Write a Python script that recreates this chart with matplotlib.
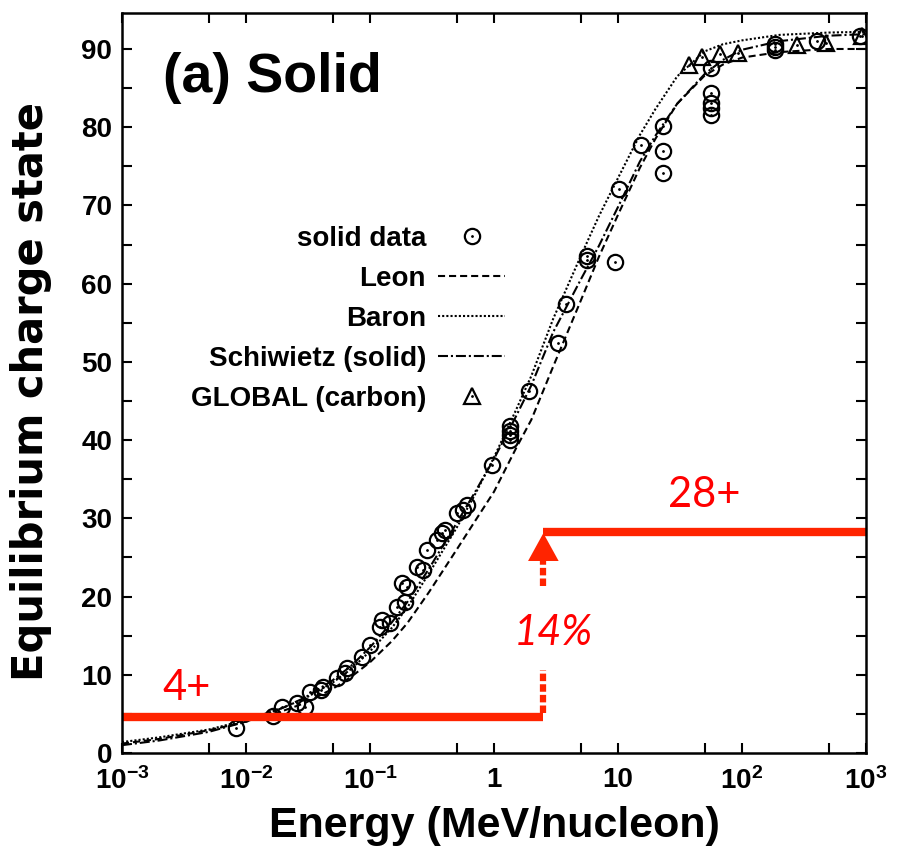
import matplotlib
matplotlib.use('Agg')
import matplotlib.pyplot as plt
from matplotlib.legend_handler import HandlerTuple
from matplotlib.ticker import FixedLocator, FixedFormatter
import numpy as np

# dati sperimentali (solido)
solid_E = [0.0083, 0.0165, 0.0195, 0.0258, 0.030, 0.033, 0.040, 0.042, 0.054, 0.063,
           0.065, 0.086, 0.100, 0.120, 0.126, 0.145, 0.165, 0.181, 0.190, 0.199,
           0.239, 0.267, 0.288, 0.347, 0.380, 0.400, 0.503, 0.560, 0.605, 0.960,
           1.35, 1.35, 1.35, 1.35, 1.91, 3.28, 3.81, 5.62, 5.62, 9.5,
           10.2, 15.3, 23.1, 23.1, 23.1, 56, 56, 56, 56, 56,
           184, 184, 184, 403, 895]
solid_Q = [3.2, 4.7, 5.9, 6.4, 5.9, 7.8, 8.1, 8.4, 9.6, 10.2,
           10.9, 12.3, 13.8, 16.1, 17.0, 16.6, 18.7, 21.7, 19.3, 21.2,
           23.8, 23.4, 26.0, 27.2, 28.1, 28.5, 30.7, 31.1, 31.7, 36.8,
           40.0, 40.6, 41.2, 41.8, 46.3, 52.4, 57.4, 63.0, 63.5, 62.8,
           72.1, 77.7, 80.2, 77.0, 74.2, 87.6, 84.4, 83.1, 82.5, 81.6,
           89.9, 90.2, 90.6, 91.0, 91.6]

# GLOBAL (carbon)
glob_E = [37.4, 47.5, 66.5, 93, 278, 475, 929]
glob_Q = [88.0, 89.0, 89.4, 89.5, 90.5, 90.8, 91.6]

# curve teoriche
curve_E = [1e-3, 2e-3, 5e-3, 1e-2, 2e-2, 3e-2, 5e-2, 0.07, 0.1, 0.15,
           0.2, 0.3, 0.5, 0.7, 1, 1.5, 2, 3, 5, 7,
           10, 15, 20, 30, 50, 70, 100, 200, 500, 1000]
leon_Q = [1.2, 1.8, 2.9, 4.0, 5.4, 6.4, 8.2, 9.7, 11.6, 14.3,
          16.6, 20.6, 26.0, 29.6, 33.4, 38.9, 42.6, 49.4, 57.8, 63.4,
          68.8, 74.8, 78.5, 83.0, 86.6, 88.0, 88.9, 89.6, 90.0, 90.0]
baron_Q = [1.4, 2.0, 3.0, 4.2, 5.8, 7.0, 9.0, 10.7, 13.0, 16.0,
           18.6, 23.0, 28.8, 33.0, 37.8, 43.8, 48.2, 55.5, 63.5, 68.6,
           73.5, 79.0, 82.3, 86.5, 89.7, 90.6, 91.1, 91.8, 92.1, 92.2]
schiw_Q = [1.0, 1.6, 2.7, 4.0, 5.8, 7.1, 9.3, 11.1, 13.5, 16.7,
           19.3, 23.6, 29.4, 33.3, 37.6, 43.0, 47.0, 53.8, 60.5, 64.8,
           69.8, 75.6, 78.9, 83.0, 86.8, 88.6, 89.9, 91.0, 91.7, 91.9]

# annotazioni (stati di carica e soglia)
q_low = 4.6
q_high = 28.2
E_step = 2.5

rosso = '#FF2400'
bold_font = 'Liberation Sans'

plt.rcParams['mathtext.fontset'] = 'custom'
plt.rcParams['mathtext.rm'] = 'Liberation Sans:bold'
plt.rcParams['mathtext.bf'] = 'Liberation Sans:bold'

fig = plt.figure(figsize=(8.99, 8.47), dpi=100)
ax = fig.add_axes([122/899, 1-753/847, 744/899, 740/847])

l_leon, = ax.plot(curve_E, leon_Q, color='black', lw=1.5, dashes=(3.4, 1.9))
l_baron, = ax.plot(curve_E, baron_Q, color='black', lw=1.5, dashes=(1, 1))
l_schiw, = ax.plot(curve_E, schiw_Q, color='black', lw=1.5, dashes=(4.8, 1.4, 1, 1.4))

c1, = ax.plot(solid_E, solid_Q, 'o', mfc='none', mec='black', ms=11, mew=1.6)
c2, = ax.plot(solid_E, solid_Q, '.', color='black', ms=2)
t1, = ax.plot(glob_E, glob_Q, '^', mfc='none', mec='black', ms=11, mew=1.6)
t2, = ax.plot(glob_E, glob_Q, '.', color='black', ms=2)

# linee rosse
ax.plot([1e-3, E_step], [q_low, q_low], color=rosso, lw=6, solid_capstyle='butt')
ax.plot([E_step, 1e3], [q_high, q_high], color=rosso, lw=6, solid_capstyle='butt')
ax.plot([E_step, E_step], [q_low + 0.5, 10.6], color=rosso, lw=4.5,
        dashes=(1.2, 0.5), dash_capstyle='butt')
ax.plot([E_step, E_step], [21.4, 25.5], color=rosso, lw=4.5,
        dashes=(1.2, 0.5), dash_capstyle='butt')
ax.annotate('', xy=(E_step, q_high - 0.1), xytext=(E_step, q_high - 3.4),
            arrowprops=dict(arrowstyle='-|>,head_length=1.0,head_width=0.55',
                            color=rosso, lw=0.01, mutation_scale=20,
                            shrinkA=0, shrinkB=0))
ax.text(0.00335, 8.3, '4+', color='red', fontsize=30, family='Lato',
        ha='center', va='center')
ax.text(50, 33.0, '28+', color='red', fontsize=30, family='Lato',
        ha='center', va='center')
ax.text(3.0, 15.3, '14%', color='red', fontsize=30, family='Lato',
        style='italic', ha='center', va='center')

ax.text(0.055, 0.893, '(a) Solid', transform=ax.transAxes, fontsize=40,
        fontweight='bold', family=bold_font, ha='left', va='baseline')

ax.set_xscale('log')
ax.set_xlim(1e-3, 1e3)
ax.set_ylim(0, 94.6)

major_x = [1e-3, 1e-2, 1e-1, 1, 10, 1e2, 1e3]
labels_x = [r'$\mathbf{10^{-3}}$', r'$\mathbf{10^{-2}}$', r'$\mathbf{10^{-1}}$',
            '1', '10', r'$\mathbf{10^{2}}$', r'$\mathbf{10^{3}}$']
ax.xaxis.set_major_locator(FixedLocator(major_x))
ax.xaxis.set_major_formatter(FixedFormatter(labels_x))
ax.xaxis.set_minor_locator(FixedLocator([5e-3, 5e-2, 5e-1, 5, 50, 500]))
ax.xaxis.set_minor_formatter(FixedFormatter([]))
ax.yaxis.set_major_locator(FixedLocator(np.arange(0, 91, 10)))
ax.yaxis.set_minor_locator(FixedLocator(np.arange(5, 95, 10)))

ax.tick_params(which='both', direction='in', top=True, right=True,
               length=7, width=1.5)
ax.tick_params(axis='x', which='major', pad=10)
ax.tick_params(axis='y', which='major', pad=7)
for lab in ax.get_xticklabels() + ax.get_yticklabels():
    lab.set_fontsize(20)
    lab.set_fontweight('bold')
    lab.set_family(bold_font)
for sp in ax.spines.values():
    sp.set_linewidth(1.8)

ax.set_xlabel('Energy (MeV/nucleon)', fontsize=31, fontweight='bold',
              family=bold_font, labelpad=8)
ax.set_ylabel('Equilibrium charge state', fontsize=30, fontweight='bold',
              family='DejaVu Sans')
ax.yaxis.set_label_coords(-0.094, 0.488)

handles = [(c1, c2), l_leon, l_baron, l_schiw, (t1, t2)]
names = ['solid data', 'Leon', 'Baron', 'Schiwietz (solid)', 'GLOBAL (carbon)']
leg = ax.legend(handles, names, handler_map={tuple: HandlerTuple(ndivide=1)},
                numpoints=1, loc='upper right', bbox_to_anchor=(0.515, 0.712),
                frameon=False, markerfirst=False, handlelength=2.4,
                handletextpad=0.45, labelspacing=0.5, borderpad=0,
                borderaxespad=0,
                prop={'family': bold_font, 'weight': 'bold', 'size': 20})

fig.savefig('out.png', dpi=100)
